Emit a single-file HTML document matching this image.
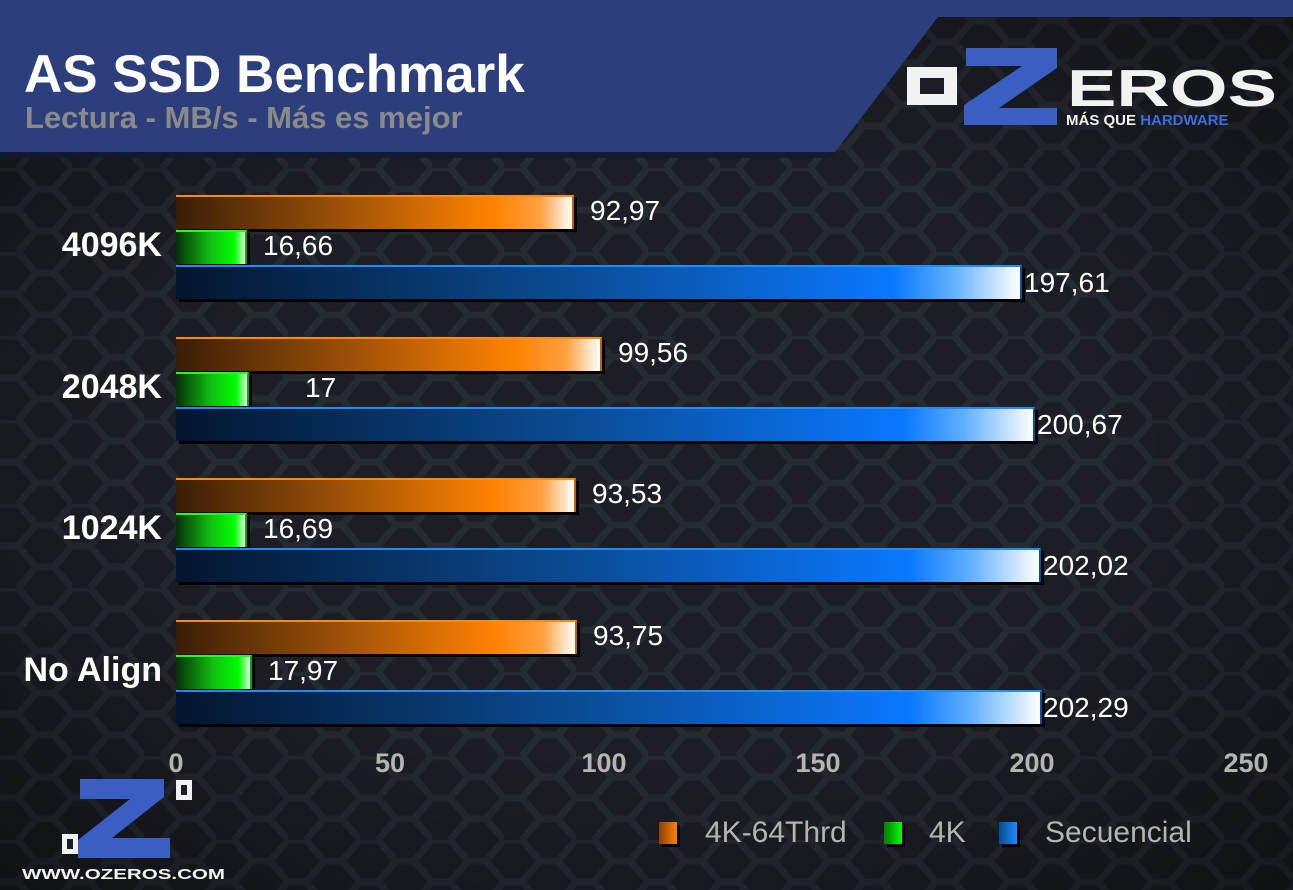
<!DOCTYPE html>
<html><head><meta charset="utf-8"><style>
html,body{margin:0;padding:0;}
body{width:1293px;height:890px;position:relative;overflow:hidden;background:#1c1f25;font-family:"Liberation Sans",sans-serif;}
.t{position:absolute;white-space:nowrap;}
.bar{position:absolute;height:32px;box-shadow:3px 3px 0 #000;}
.o{background:linear-gradient(90deg,#3a1e05 0%,#9a4f08 40%,#ff8200 80%,#ffa040 92%,#fff 100%);border-top:2px solid #ff8a10;border-right:2px solid #c06000;}
.g{background:linear-gradient(90deg,#063006 0%,#10c010 50%,#00ff00 85%,#dfffdf 100%);border-top:2px solid #20ff20;border-right:2px solid #10a010;}
.b{background:linear-gradient(90deg,#03152e 0%,#0a4a90 45%,#0a78ff 85%,#60b0ff 92%,#fff 100%);border-top:2px solid #1c8cff;border-right:2px solid #0050a0;}
.v{position:absolute;color:#fff;font-size:28px;}
.c{position:absolute;color:#fff;font-size:34px;font-weight:bold;text-align:right;width:200px;left:-38px;}
.tick{position:absolute;top:748px;color:#b4b4b4;font-size:27px;font-weight:bold;width:80px;text-align:center;}
.sw{position:absolute;top:822px;width:18px;height:22px;box-shadow:3px 3px 0 #000;}
.lg{position:absolute;top:816px;color:#b4b4b4;font-size:30px;}
</style></head><body>
<svg width="1293" height="890" style="position:absolute;left:0;top:0">
<defs>
<pattern id="hx" width="72" height="84" patternUnits="userSpaceOnUse">
<path d="M0 0 L18 0 L36 21 L18 42 L0 42 M36 21 L54 21 L72 0 M54 21 L72 42 L54 63 L36 63 L18 42 M36 63 L18 84 M54 63 L72 84 M72 42" fill="none" stroke="#262a31" stroke-width="7"/>
</pattern>
<radialGradient id="vg" cx="50%" cy="50%" r="70%"><stop offset="0.5" stop-color="#000" stop-opacity="0"/><stop offset="1" stop-color="#000" stop-opacity="0.4"/></radialGradient>
</defs>
<rect width="1293" height="890" fill="#1b1e24"/>
<rect width="1293" height="890" fill="url(#hx)"/>
<rect width="1293" height="890" fill="url(#vg)"/>
<polygon points="0,0 1293,0 1293,17 938,17 835,152 0,152" fill="#2c3f7c"/>
<polygon points="0,152 835,152 830,158 0,158" fill="#0f1a33" opacity="0.8"/>
<rect x="907" y="67" width="50" height="38" fill="#f2f2f2"/><rect x="920" y="78" width="24" height="16" fill="#1b1e24"/>
<polygon points="966,48 1057,48 1057,68 999,108 1057,108 1057,125 964,125 964,105 1022,66 966,66" fill="#3a5ec4"/>
<text x="1067" y="106" font-family="Liberation Sans" font-weight="bold" font-size="52" fill="#f2f2f2" textLength="210" lengthAdjust="spacingAndGlyphs">EROS</text>
<text x="1066" y="125" font-family="Liberation Sans" font-weight="bold" font-size="15" fill="#f2f2f2">MÁS QUE <tspan fill="#3a6ee0">HARDWARE</tspan></text>
<polygon points="80,779 164,779 164,797 112,838 170,838 170,858 78,858 78,840 130,799 80,799" fill="#3a5ec4"/>
<rect x="176" y="780" width="16" height="20" fill="#f2f2f2"/><rect x="181" y="785" width="6" height="10" fill="#1b1e24"/>
<rect x="62" y="834" width="16" height="20" fill="#f2f2f2"/><rect x="67" y="839" width="6" height="10" fill="#1b1e24"/>
<text x="22" y="879" font-family="Liberation Sans" font-weight="bold" font-size="15" fill="#f2f2f2" textLength="203" lengthAdjust="spacingAndGlyphs">WWW.OZEROS.COM</text>
</svg>
<div class="t" style="left:24px;top:44px;color:#fff;font-size:53px;font-weight:bold;">AS SSD Benchmark</div>
<div class="t" style="left:25px;top:100px;color:#8a8a8a;font-size:31px;font-weight:bold;">Lectura - MB/s - Más es mejor</div>

<div class="bar o" style="left:176px;top:195px;width:396px"></div>
<div class="bar g" style="left:176px;top:230px;width:69px"></div>
<div class="bar b" style="left:176px;top:265px;width:844px"></div>
<div class="v" style="left:590px;top:195px">92,97</div>
<div class="v" style="left:263px;top:230px">16,66</div>
<div class="v" style="left:1024px;top:267px">197,61</div>
<div class="c" style="top:226px">4096K</div>

<div class="bar o" style="left:176px;top:337px;width:424px"></div>
<div class="bar g" style="left:176px;top:372px;width:71px"></div>
<div class="bar b" style="left:176px;top:407px;width:857px"></div>
<div class="v" style="left:618px;top:337px">99,56</div>
<div class="v" style="left:305px;top:372px">17</div>
<div class="v" style="left:1037px;top:409px">200,67</div>
<div class="c" style="top:368px">2048K</div>

<div class="bar o" style="left:176px;top:478px;width:398px"></div>
<div class="bar g" style="left:176px;top:513px;width:69px"></div>
<div class="bar b" style="left:176px;top:548px;width:863px"></div>
<div class="v" style="left:592px;top:478px">93,53</div>
<div class="v" style="left:263px;top:513px">16,69</div>
<div class="v" style="left:1043px;top:550px">202,02</div>
<div class="c" style="top:509px">1024K</div>

<div class="bar o" style="left:176px;top:620px;width:399px"></div>
<div class="bar g" style="left:176px;top:655px;width:74px"></div>
<div class="bar b" style="left:176px;top:690px;width:864px"></div>
<div class="v" style="left:593px;top:620px">93,75</div>
<div class="v" style="left:268px;top:655px">17,97</div>
<div class="v" style="left:1043px;top:692px">202,29</div>
<div class="c" style="top:651px">No Align</div>

<div class="tick" style="left:136px">0</div>
<div class="tick" style="left:350px">50</div>
<div class="tick" style="left:564px">100</div>
<div class="tick" style="left:778px">150</div>
<div class="tick" style="left:992px">200</div>
<div class="tick" style="left:1206px">250</div>

<div class="sw" style="left:659px;background:linear-gradient(90deg,#8a4000,#ff8200)"></div>
<div class="lg" style="left:705px">4K-64Thrd</div>
<div class="sw" style="left:884px;background:linear-gradient(90deg,#0a7a0a,#00ff00)"></div>
<div class="lg" style="left:929px">4K</div>
<div class="sw" style="left:999px;background:linear-gradient(90deg,#0a4a90,#1c8cff)"></div>
<div class="lg" style="left:1045px">Secuencial</div>
</body></html>
